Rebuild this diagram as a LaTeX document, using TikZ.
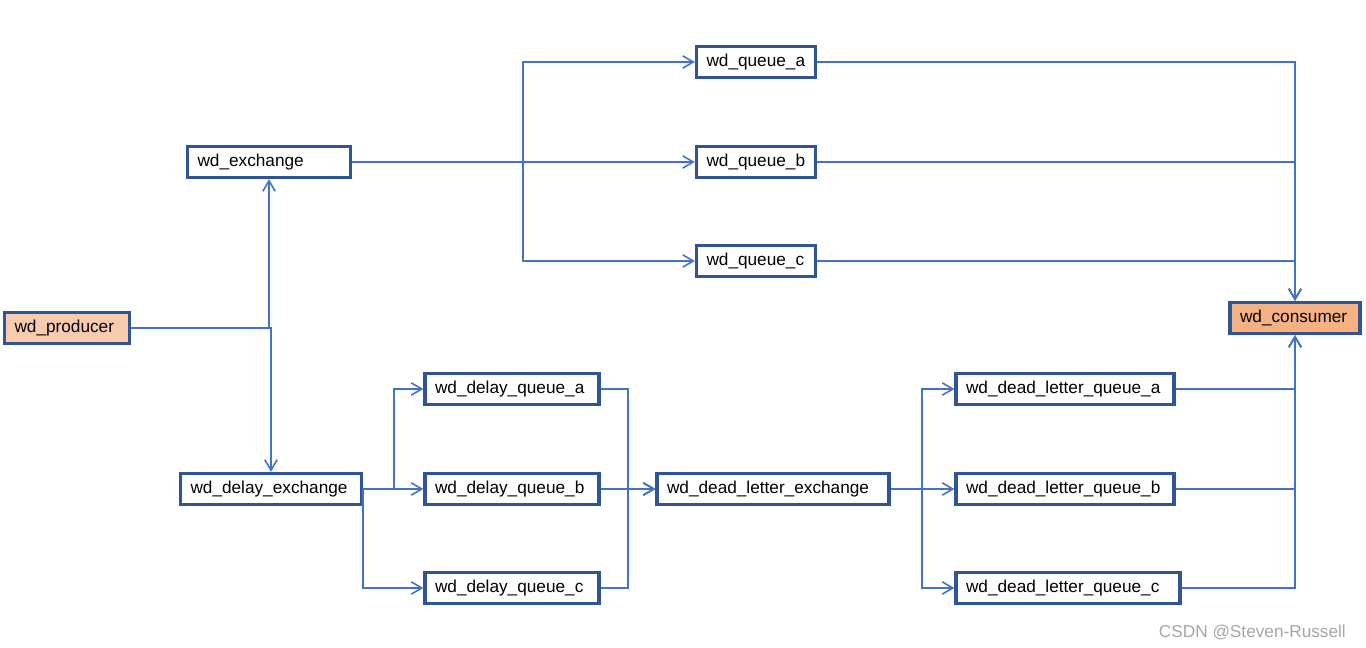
\documentclass[tikz,border=0pt]{standalone}
\usepackage{fontspec}
\setmainfont{Liberation Sans}
\usetikzlibrary{arrows.meta,positioning}
\definecolor{boxblue}{HTML}{2F5597}
\definecolor{linkblue}{HTML}{4472C4}
\definecolor{prodfill}{HTML}{F8CBAD}
\definecolor{consfill}{HTML}{F4B183}
\tikzset{
    %Define standard arrow tip
    >={Straight Barb[length=6pt,width=7pt]},
    %Define style for boxes
    kasten/.style={
           rectangle,
           draw=boxblue, line width=1.9pt,
           fill=white,
           text width=#1,
           inner xsep=0.2cm,
           minimum height=0.62cm,
           align=left,
           font=\fontsize{9.8}{12}\selectfont},
    % Define arrow style
    pfeil/.style={
           ->,
           draw=linkblue,
           line width=0.9pt}
}
\begin{document}
\begin{tikzpicture}[x=0.02cm,y=-0.02cm]
\useasboundingbox (0,0) rectangle (1366,648);
 %nodes
\node[kasten=2.10cm, fill=prodfill](prod) at (67,328){wd\_producer};
\node[kasten=2.86cm](ex) at (269,162){wd\_exchange};
\node[kasten=3.22cm](dx) at (271,489){wd\_delay\_exchange};
\node[kasten=1.98cm](qa) at (756,62){wd\_queue\_a};
\node[kasten=1.98cm](qb) at (756,162){wd\_queue\_b};
\node[kasten=1.98cm](qc) at (756,261){wd\_queue\_c};
\node[kasten=2.20cm, fill=consfill](cons) at (1295,318){wd\_consumer};
\node[kasten=3.08cm](dqa) at (512,389){wd\_delay\_queue\_a};
\node[kasten=3.08cm](dqb) at (512,489){wd\_delay\_queue\_b};
\node[kasten=3.08cm](dqc) at (512,588){wd\_delay\_queue\_c};
\node[kasten=4.24cm](dlx) at (773,489){wd\_dead\_letter\_exchange};
\node[kasten=3.96cm](dlqa) at (1065,389){wd\_dead\_letter\_queue\_a};
\node[kasten=3.96cm](dlqb) at (1065,489){wd\_dead\_letter\_queue\_b};
\node[kasten=4.08cm](dlqc) at (1068,588){wd\_dead\_letter\_queue\_c};
\node[text=gray!70, font=\fontsize{9.8}{12}\selectfont, anchor=east](mark) at (1352,632){CSDN @Steven-Russell};
 %branch points
\coordinate (exsplit) at (523,162);
\coordinate (dxsplit) at (394,489);
\coordinate (dqsplit) at (628,489);
\coordinate (dlsplit) at (922,489);
 %links
\draw[pfeil] (prod.east) -| (ex.south);
\draw[pfeil] (prod.east) -| (dx.north);
\draw[pfeil] (ex.east) -- (qb.west);
\draw[pfeil] (ex.east) -- (exsplit) |- (qa.west);
\draw[pfeil] (ex.east) -- (exsplit) |- (qc.west);
\draw[pfeil] (qa.east) -| (cons.north);
\draw[pfeil] (qb.east) -| (cons.north);
\draw[pfeil] (qc.east) -| (cons.north);
\draw[pfeil] (dx.east) -- (dqb.west);
\draw[pfeil] (dx.east) -- (dxsplit) |- (dqa.west);
\draw[pfeil] (dx.east) |- (dqc.west);
\draw[pfeil] (dqb.east) -- (dlx.west);
\draw[pfeil] (dqa.east) -| (dqsplit) -- (dlx.west);
\draw[pfeil] (dqc.east) -| (dqsplit) -- (dlx.west);
\draw[pfeil] (dlx.east) -- (dlqb.west);
\draw[pfeil] (dlx.east) -- (dlsplit) |- (dlqa.west);
\draw[pfeil] (dlx.east) -- (dlsplit) |- (dlqc.west);
\draw[pfeil] (dlqa.east) -| (cons.south);
\draw[pfeil] (dlqb.east) -| (cons.south);
\draw[pfeil] (dlqc.east) -| (cons.south);
\end{tikzpicture}
\end{document}
